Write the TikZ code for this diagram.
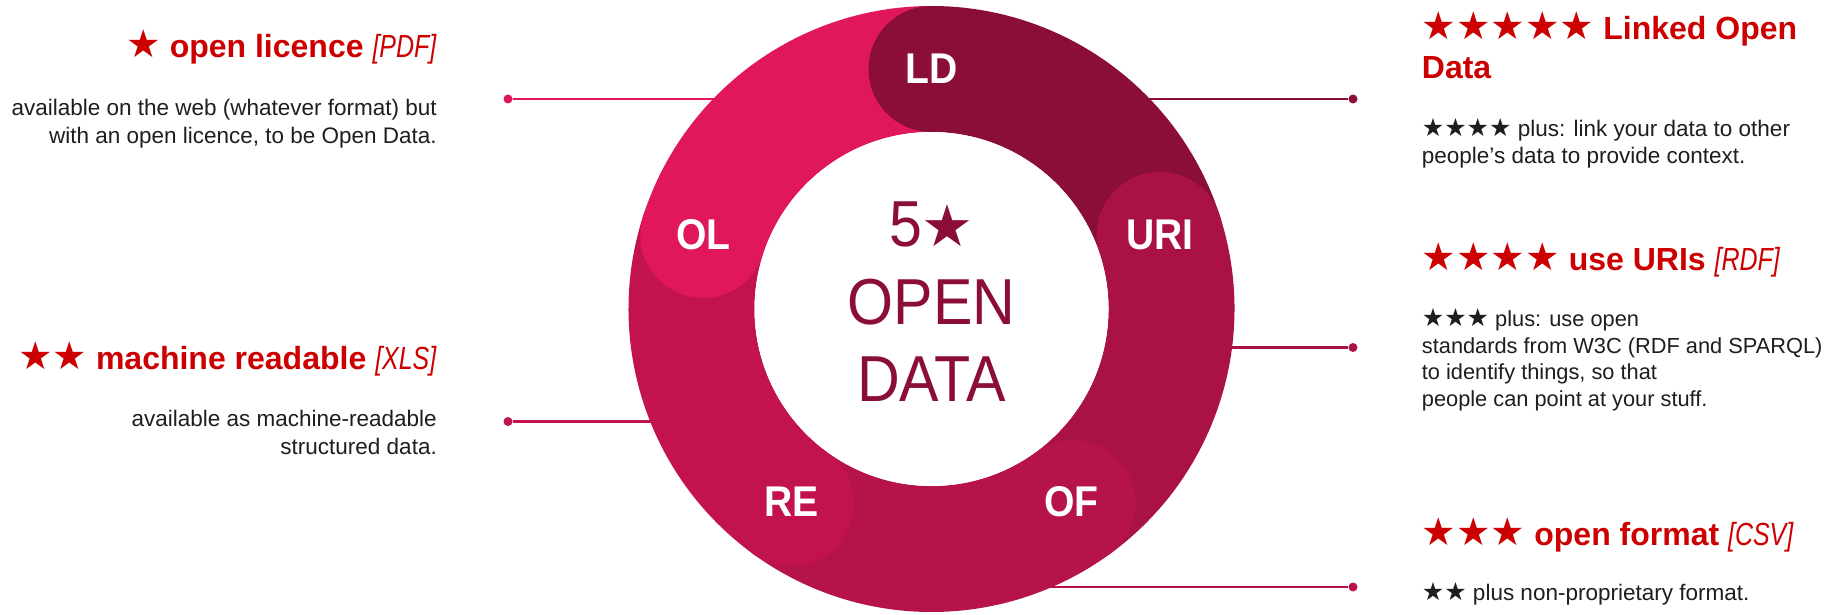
\documentclass[tikz,border=0pt]{standalone}
\usepackage{fontspec}
\setmainfont{Liberation Sans}
\newfontfamily\narrow[FakeStretch=0.91]{Liberation Sans}
\newfontfamily\itl[FakeStretch=0.78]{Liberation Sans}
\newfontfamily\sym{DejaVu Sans}
\definecolor{cOL}{HTML}{E0185A}
\definecolor{cLD}{HTML}{8A0E36}
\definecolor{cURI}{HTML}{A91242}
\definecolor{cOF}{HTML}{B5134A}
\definecolor{cRE}{HTML}{C3134E}
\definecolor{titlered}{HTML}{CC0000}
\definecolor{bodytext}{HTML}{1E1E1E}
\newcommand\tstar[1]{{\sym\fontsize{38.5}{38.5}\selectfont #1}}
\newcommand\bstar[1]{{\sym\fontsize{25}{25}\selectfont #1}}
\newcommand\fmt[1]{{\itl\mdseries\itshape #1}}
\tikzset{
  ttl/.style={inner sep=0pt, text=titlered, font=\fontsize{32}{39}\selectfont\bfseries},
  bodytxt/.style={inner sep=0pt, text=bodytext, font=\fontsize{22.5}{27.3}\selectfont},
  dot/.style={circle, fill=#1, inner sep=0pt, minimum size=9pt},
  link/.style={draw=#1, line width=2.2pt},
  capl/.style={text=white, font=\narrow\bfseries\fontsize{43}{43}\selectfont},
  ctr/.style={text=cLD, font=\narrow\fontsize{65}{77.5}\selectfont, align=center}
}
\begin{document}
\begin{tikzpicture}[x=1pt,y=-1pt]
\useasboundingbox (0,0) rectangle (1825,615);
\fill[white] (0,0) rectangle (1825,615);

% connector dots and ends
\node[dot=cOL] (dOL) at (508,99) {};
\node[dot=cRE] (dRE) at (508,421.5) {};
\node[dot=cLD] (dLD) at (1353,99) {};
\node[dot=cURI] (dURI) at (1353,347.5) {};
\node[dot=cOF] (dOF) at (1353,587) {};
\coordinate (eOL) at (730,99);
\coordinate (eRE) at (665,421.5);
\coordinate (eLD) at (1135,99);
\coordinate (eURI) at (1220,347.5);
\coordinate (eOF) at (1040,587);
\draw[link=cOL] (dOL) -- (eOL);
\draw[link=cRE] (dRE) -- (eRE);
\draw[link=cLD] (dLD) -- (eLD);
\draw[link=cURI] (dURI) -- (eURI);
\draw[link=cOF] (dOF) -- (eOF);

% ring
\begin{scope}[shift={(931.5,309)}, yscale=-1]
  \foreach \a/\c in {90/cLD, 18/cURI, -54/cOF, -126/cRE, 162/cOL} {
    \fill[\c] (\a:303) arc[start angle=\a, end angle=\a-72, radius=303]
      -- (\a-72:177) arc[start angle=\a-72, end angle=\a, radius=177] -- cycle;
  }
  \foreach \a/\c in {90/cLD, 18/cURI, -54/cOF, -126/cRE, 162/cOL} {
    \fill[\c] (\a:240) circle[radius=63];
  }
  \fill[white] (0,0) circle[radius=177];
  \node[capl] (LD) at (90:240) {LD};
  \node[capl] (URI) at (18:240) {URI};
  \node[capl] (OF) at (-54:238) {OF};
  \node[capl] (RE) at (-126:238) {RE};
  \node[capl] (OL) at (162:240) {OL};
\end{scope}
\node[ctr] (center) at (931.5,302) {5{\sym\fontsize{58}{58}\selectfont ★}\\OPEN\\DATA};

% left texts (multi-line nodes: base = last line)
\node[ttl, anchor=base east] (tOL) at (436.5,57.5) {\tstar{★} open licence \fmt{[PDF]}};
\node[bodytxt, anchor=base east, align=right] (bOL) at (437,143.3) {available on the web (whatever format) but\\with an open licence, to be Open Data.};
\node[ttl, anchor=base east] (tRE) at (436.5,369.5) {\tstar{★★} machine readable \fmt{[XLS]}};
\node[bodytxt, anchor=base east, align=right] (bRE) at (437,454) {available as machine-readable\\structured data.};

% right texts
\node[ttl, anchor=base west, align=left] (tLD) at (1421.7,78.3) {\tstar{★★★★★} Linked Open\\Data};
\node[bodytxt, anchor=base west, align=left] (bLD) at (1421.7,163.5) {\bstar{★★★★} plus: link your data to other\\people’s data to provide context.};
\node[ttl, anchor=base west] (tURI) at (1421.7,270) {\tstar{★★★★} use URIs \fmt{[RDF]}};
\node[bodytxt, anchor=base west, align=left, font=\fontsize{21.8}{26.8}\selectfont] (bURI) at (1421.7,406.7) {\bstar{★★★} plus: use open\\standards from W3C (RDF and SPARQL)\\to identify things, so that\\people can point at your stuff.};
\node[ttl, anchor=base west] (tOF) at (1421.7,545) {\tstar{★★★} open format \fmt{[CSV]}};
\node[bodytxt, anchor=base west] (bOF) at (1421.7,600) {\bstar{★★} plus non-proprietary format.};
\end{tikzpicture}
\end{document}
